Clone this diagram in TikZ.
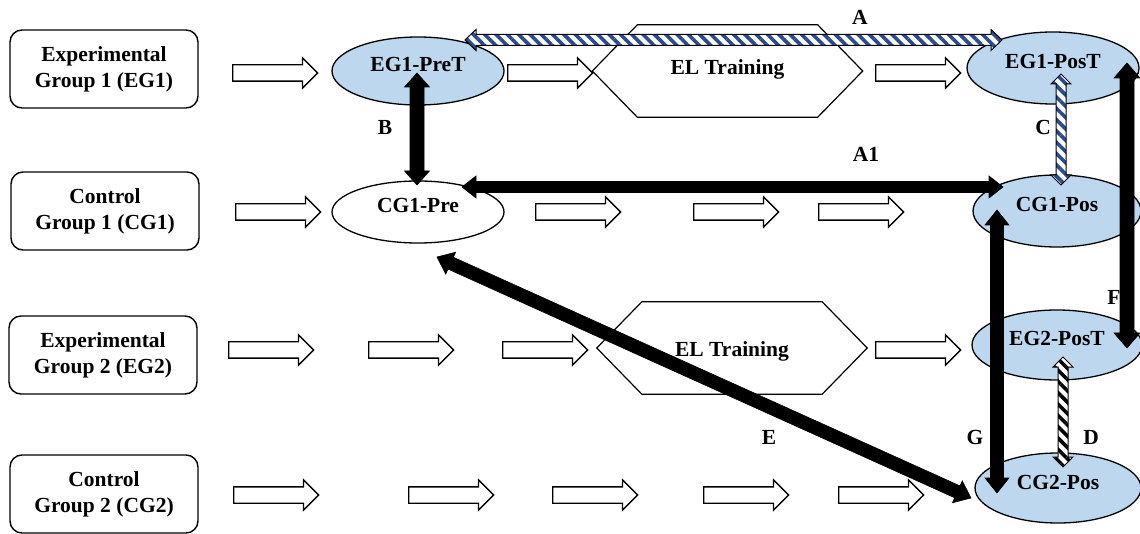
\documentclass[tikz,border=0pt]{standalone}
\usepackage{fontspec}
\setmainfont{Liberation Serif}
\usetikzlibrary{shapes.arrows,shapes.geometric,calc,patterns.meta}

\definecolor{testblue}{HTML}{BDD7EE}
\definecolor{stripenavy}{HTML}{2B4C8C}

% double-headed block arrow between two named points
% #1 style, #2 from, #3 to, #4 shaft half width, #5 head half width, #6 head length
\newcommand\blockpair[6]{%
  \path[#1] (#2)
    -- ($(#2)!#6!(#3)!#5!90:(#3)$)
    -- ($(#2)!#6!(#3)!#4!90:(#3)$)
    -- ($(#3)!#6!(#2)!#4!-90:(#2)$)
    -- ($(#3)!#6!(#2)!#5!-90:(#2)$)
    -- (#3)
    -- ($(#3)!#6!(#2)!#5!90:(#2)$)
    -- ($(#3)!#6!(#2)!#4!90:(#2)$)
    -- ($(#2)!#6!(#3)!#4!-90:(#3)$)
    -- ($(#2)!#6!(#3)!#5!-90:(#3)$)
    -- cycle;}

\begin{document}
\begin{tikzpicture}[x=1pt,y=-1pt,
  every node/.style={font=\fontsize{21.5}{26}\selectfont\bfseries},
  grp/.style={draw, line width=1.4pt, rounded corners=12pt, align=center,
    minimum width=188pt, minimum height=78pt, inner sep=0pt},
  ell/.style={ellipse, draw, line width=1.3pt, fill=testblue, inner sep=0pt,
    text height=7pt, text depth=5pt},
  hexbox/.style={inner sep=0pt, minimum width=270pt, minimum height=92pt},
  hexline/.style={draw, line width=1.2pt},
  hollow/.style={single arrow, draw, line width=1.3pt, fill=white, inner sep=0pt,
    text height=7.5pt, text depth=7.5pt, text width=0pt, anchor=tail,
    minimum height=85pt, minimum width=29pt, single arrow head extend=7pt,
    single arrow head indent=0pt, single arrow tip angle=90},
  lab/.style={inner sep=0pt},
  heavy/.style={fill=black, draw=black, line width=0.6pt},
  stripes/.style={draw=black, line width=1pt, preaction={fill=white},
    pattern={Lines[angle=-45,distance=8pt,line width=3.6pt]}, pattern color=#1}
]
\useasboundingbox (0,0) rectangle (1140,534);

% group boxes
\node[grp] (eg1box) at (104,69)  {Experimental\\Group 1 (EG1)};
\node[grp] (cg1box) at (105,211) {Control\\Group 1 (CG1)};
\node[grp] (eg2box) at (103,355) {Experimental\\Group 2 (EG2)};
\node[grp] (cg2box) at (104,494) {Control\\Group 2 (CG2)};

% test ellipses
\node[ell, minimum width=172pt, minimum height=68pt] (eg1pre) at (418,71)  {EG1-PreT};
\node[ell, minimum width=172pt, minimum height=62pt, fill=white] (cg1pre) at (418,212) {CG1-Pre};
\node[ell, minimum width=172pt, minimum height=72pt] (eg1pos) at (1053,68)  {EG1-PosT};
\node[ell, minimum width=168pt, minimum height=72pt] (cg1pos) at (1057,211) {CG1-Pos};
\node[ell, minimum width=170pt, minimum height=70pt] (eg2pos) at (1057,345) {EG2-PosT};
\node[ell, minimum width=166pt, minimum height=70pt] (cg2pos) at (1058,488) {CG2-Pos};

% training hexagons
\node[hexbox, text height=14pt, text depth=6pt] (train1) at (727.5,71) {EL Training};
\node[hexbox, text height=18pt, text depth=2pt] (train2) at (732,348) {EL Training};
\foreach \h in {train1,train2}{
  \path[hexline] (\h.west) -- ([xshift=45pt]\h.north west) -- ([xshift=-45pt]\h.north east)
    -- (\h.east) -- ([xshift=-45pt]\h.south east) -- ([xshift=45pt]\h.south west) -- cycle;
}

% flow arrows, row by row (placed by their tails)
\node[hollow] (f11) at (232,73) {};
\node[hollow] (f12) at (507,73) {};
\node[hollow] (f13) at (875,73) {};
\node[hollow] (f21) at (235,212) {};
\node[hollow] (f22) at (535,212) {};
\node[hollow] (f23) at (693,212) {};
\node[hollow] (f24) at (818,212) {};
\node[hollow] (f31) at (228,350) {};
\node[hollow] (f32) at (368,350) {};
\node[hollow] (f33) at (502,350) {};
\node[hollow] (f34) at (875,350) {};
\node[hollow] (f41) at (233,495) {};
\node[hollow] (f42) at (408,495) {};
\node[hollow] (f43) at (552,495) {};
\node[hollow] (f44) at (703,495) {};
\node[hollow] (f45) at (838,495) {};

% comparison labels
\node[lab] (lA)  at (860,17)  {A};
\node[lab] (lA1) at (866,154) {A1};
\node[lab] (lB)  at (385,127) {B};
\node[lab] (lC)  at (1043,127) {C};
\node[lab] (lD)  at (1091,437) {D};
\node[lab] (lE)  at (769,437) {E};
\node[lab] (lF)  at (1114,297) {F};
\node[lab] (lG)  at (975,437) {G};

% ends of the comparison arrows
\coordinate (Aw)  at ([shift={(47,-31)}]eg1pre.center);
\coordinate (Ae)  at ([shift={(-51,-28)}]eg1pos.center);
\coordinate (A1w) at ([shift={(44,-25)}]cg1pre.center);
\coordinate (A1e) at ([shift={(-54,-24)}]cg1pos.center);
\coordinate (Bn)  at ([shift={(-1,2)}]eg1pre.center);
\coordinate (Bs)  at ([shift={(-1,-27)}]cg1pre.center);
\coordinate (Cn)  at ([shift={(8,6)}]eg1pos.center);
\coordinate (Cs)  at ([shift={(4,-26)}]cg1pos.center);
\coordinate (Dn)  at ([shift={(6,12)}]eg2pos.center);
\coordinate (Ds)  at ([shift={(5,-21)}]cg2pos.center);
\coordinate (Ew)  at ([shift={(19,45)}]cg1pre.center);
\coordinate (Ee)  at ([shift={(-87,10)}]cg2pos.center);
\coordinate (Fn)  at ([shift={(74,-5)}]eg1pos.center);
\coordinate (Fs)  at ([shift={(70,3)}]eg2pos.center);
\coordinate (Gn)  at ([shift={(-60,-1)}]cg1pos.center);
\coordinate (Gs)  at ([shift={(-61,5)}]cg2pos.center);

% comparison arrows
\blockpair{stripes=stripenavy}{Aw}{Ae}{5.5pt}{10.5pt}{11pt}
\blockpair{heavy}{A1w}{A1e}{5.5pt}{11pt}{14pt}
\blockpair{heavy}{Bn}{Bs}{7pt}{12.5pt}{14pt}
\blockpair{stripes=stripenavy}{Cn}{Cs}{5pt}{10pt}{10pt}
\blockpair{stripes=black}{Dn}{Ds}{5pt}{10pt}{10pt}
\blockpair{heavy}{Ew}{Ee}{6.5pt}{12pt}{15pt}
\blockpair{heavy}{Fn}{Fs}{7pt}{13pt}{15pt}
\blockpair{heavy}{Gn}{Gs}{6.5pt}{12pt}{15pt}
\end{tikzpicture}
\end{document}
